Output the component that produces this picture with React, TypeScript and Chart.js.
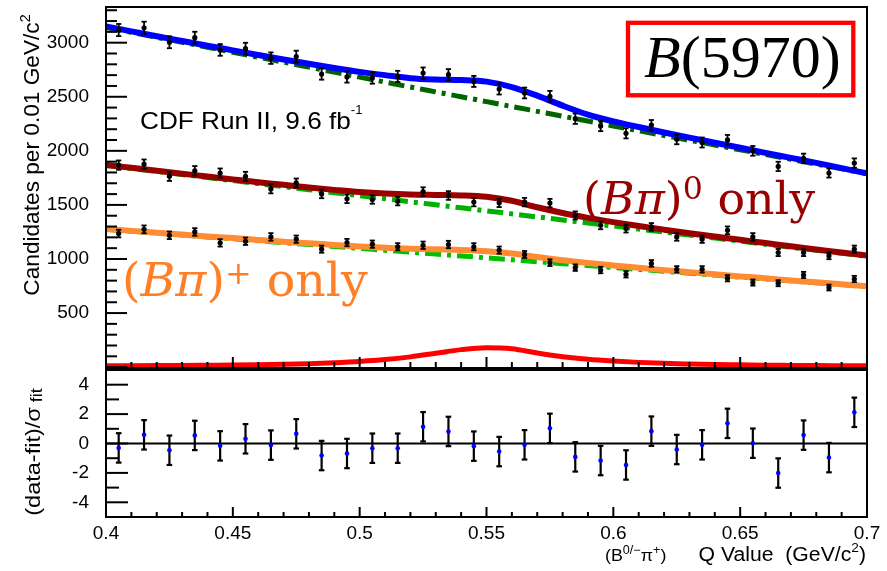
import React, { useEffect, useRef } from 'react';
import { Chart, registerables } from 'chart.js';

Chart.register(...registerables);

// ---------- data ----------
const binCenters = [0.405, 0.415, 0.425, 0.435, 0.445, 0.455, 0.465, 0.475, 0.485, 0.495, 0.505, 0.515, 0.525, 0.535, 0.545, 0.555, 0.565, 0.575, 0.585, 0.595, 0.605, 0.615, 0.625, 0.635, 0.645, 0.655, 0.665, 0.675, 0.685, 0.695];

const totalCounts = [3117, 3138, 3004, 3046, 2933, 2945, 2857, 2872, 2710, 2683, 2673, 2688, 2719, 2704, 2642, 2572, 2535, 2504, 2297, 2229, 2162, 2238, 2107, 2077, 2101, 2000, 1856, 1930, 1795, 1887];
const totalErrors = [56, 56, 55, 55, 54, 54, 53, 54, 52, 52, 52, 52, 52, 52, 51, 51, 50, 50, 48, 47, 47, 47, 46, 46, 46, 45, 43, 44, 42, 43];

const neutralCounts = [1868, 1877, 1764, 1816, 1795, 1764, 1648, 1703, 1602, 1556, 1550, 1535, 1623, 1587, 1526, 1519, 1526, 1517, 1403, 1311, 1281, 1296, 1204, 1183, 1265, 1204, 1060, 1060, 1030, 1091];
const neutralErrors = [43, 43, 42, 43, 42, 42, 41, 41, 40, 39, 39, 39, 40, 40, 39, 39, 39, 39, 37, 36, 36, 36, 35, 34, 36, 35, 33, 33, 32, 33];

const chargedCounts = [1235, 1274, 1219, 1250, 1149, 1164, 1204, 1183, 1091, 1152, 1137, 1113, 1127, 1134, 1113, 1082, 1042, 966, 920, 898, 858, 959, 904, 904, 822, 782, 776, 852, 736, 815];
const chargedErrors = [35, 36, 35, 35, 34, 34, 35, 34, 33, 34, 34, 33, 34, 34, 33, 33, 32, 31, 30, 30, 29, 31, 30, 30, 29, 28, 28, 29, 27, 29];

const curveX = [0.40, 0.41, 0.42, 0.43, 0.44, 0.45, 0.46, 0.47, 0.48, 0.49, 0.50, 0.51, 0.52, 0.53, 0.54, 0.55, 0.56, 0.57, 0.58, 0.59, 0.60, 0.61, 0.62, 0.63, 0.64, 0.65, 0.66, 0.67, 0.68, 0.69, 0.70];
const totalFit = [3150, 3105, 3060, 3016, 2972, 2929, 2886, 2845, 2805, 2766, 2730, 2700, 2672, 2660, 2655, 2640, 2590, 2510, 2418, 2335, 2272, 2220, 2170, 2122, 2075, 2028, 1981, 1935, 1889, 1840, 1792];
const totalBkg = [3142, 3096, 3050, 3004, 2958, 2912, 2866, 2820, 2774, 2728, 2682, 2636, 2590, 2545, 2500, 2455, 2410, 2365, 2320, 2275, 2230, 2186, 2142, 2098, 2054, 2010, 1966, 1922, 1878, 1834, 1788];
const neutralFit = [1870, 1843, 1816, 1789, 1762, 1736, 1710, 1686, 1661, 1639, 1619, 1605, 1596, 1592, 1588, 1575, 1538, 1478, 1425, 1380, 1341, 1305, 1271, 1238, 1207, 1177, 1147, 1118, 1088, 1060, 1031];
const neutralBkg = [1865, 1837, 1809, 1781, 1753, 1725, 1697, 1669, 1641, 1613, 1585, 1557, 1529, 1501, 1473, 1445, 1417, 1389, 1361, 1333, 1305, 1277, 1249, 1221, 1193, 1165, 1137, 1109, 1081, 1053, 1025];
const chargedFit = [1278, 1260, 1243, 1226, 1209, 1193, 1176, 1159, 1145, 1130, 1116, 1105, 1095, 1089, 1084, 1072, 1050, 1019, 989, 963, 940, 918, 897, 878, 858, 839, 821, 802, 784, 766, 748];
const chargedBkg = [1275, 1257, 1240, 1222, 1204, 1187, 1169, 1151, 1134, 1116, 1098, 1081, 1063, 1045, 1028, 1010, 992, 975, 957, 939, 922, 904, 886, 869, 851, 833, 816, 798, 780, 763, 745];
const signalFit = [12, 13, 14, 15, 17, 19, 22, 26, 32, 41, 53, 70, 95, 128, 162, 180, 170, 130, 96, 72, 56, 44, 35, 29, 24, 21, 18, 16, 14, 13, 12];

const residuals = [-0.30, 0.59, -0.46, 0.55, -0.16, 0.32, -0.11, 0.66, -0.82, -0.68, -0.32, -0.32, 1.14, 0.82, -0.18, -0.55, -0.09, 1.03, -0.91, -1.16, -1.46, 0.84, -0.41, -0.09, 1.37, 0.02, -2.01, 0.57, -0.96, 2.12];
const residualErrors = [1, 1, 1, 1, 1, 1, 1, 1, 1, 1, 1, 1, 1, 1, 1, 1, 1, 1, 1, 1, 1, 1, 1, 1, 1, 1, 1, 1, 1, 1];

const yTicksTop = [500, 1000, 1500, 2000, 2500, 3000];
const yTicksRes = [-4, -2, 0, 2, 4];
const xTicks = [0.4, 0.45, 0.5, 0.55, 0.6, 0.65, 0.7];

// ---------- helpers ----------
const SANS = '"Liberation Sans", Arial, Helvetica, sans-serif';
const SERIF = '"DejaVu Serif", "Liberation Serif", serif';
const TSERIF = '"Liberation Serif", "Times New Roman", serif';

type Part = { t: string; size: number; family?: string; style?: string; dy?: number };

function drawRich(ctx: CanvasRenderingContext2D, parts: Part[], x: number, y: number, align: 'left' | 'center' | 'right', color: string, family: string, sx = 1) {
  ctx.save();
  ctx.fillStyle = color;
  ctx.textBaseline = 'alphabetic';
  ctx.textAlign = 'left';
  const fontOf = (p: Part) => `${p.style ?? 'normal'} ${p.size}px ${p.family ?? family}`;
  let w = 0;
  for (const p of parts) { ctx.font = fontOf(p); w += ctx.measureText(p.t).width; }
  ctx.translate(x, y);
  ctx.scale(sx, 1);
  let cx = align === 'left' ? 0 : align === 'center' ? -w / 2 : -w;
  for (const p of parts) {
    ctx.font = fontOf(p);
    ctx.fillText(p.t, cx, p.dy ?? 0);
    cx += ctx.measureText(p.t).width;
  }
  ctx.restore();
}

function seg(ctx: CanvasRenderingContext2D, x1: number, y1: number, x2: number, y2: number) {
  ctx.beginPath(); ctx.moveTo(x1, y1); ctx.lineTo(x2, y2); ctx.stroke();
}

const noPad = (s: any) => { s.paddingTop = 0; s.paddingBottom = 0; s.paddingLeft = 0; s.paddingRight = 0; };

const errorBarPlugin = {
  id: 'errbars',
  beforeDatasetDraw(chart: any, args: any) {
    const ds = chart.data.datasets[args.index];
    if (!ds.errors) return;
    const meta = args.meta;
    const yS = chart.scales[meta.yAxisID];
    const ctx = chart.ctx as CanvasRenderingContext2D;
    ctx.save();
    ctx.strokeStyle = '#000';
    ctx.lineWidth = ds.errWidth;
    const cap = ds.capHalf;
    ds.data.forEach((p: any, j: number) => {
      const el = meta.data[j];
      const y1 = yS.getPixelForValue(p.y + ds.errors[j]);
      const y2 = yS.getPixelForValue(p.y - ds.errors[j]);
      seg(ctx, el.x, y1, el.x, y2);
      seg(ctx, el.x - cap, y1, el.x + cap, y1);
      seg(ctx, el.x - cap, y2, el.x + cap, y2);
    });
    ctx.restore();
  },
};

const pts = (xs: number[], ys: number[]) => xs.map((x, i) => ({ x, y: ys[i] }));

const curve = (data: number[], color: string, width: number, order: number, dash: number[] = []) => ({
  data: pts(curveX, data),
  showLine: true,
  borderColor: color,
  backgroundColor: color,
  borderWidth: width,
  borderDash: dash,
  pointRadius: 0,
  cubicInterpolationMode: 'monotone' as const,
  fill: false,
  order,
});

const points = (ys: number[], errs: number[]) => ({
  data: pts(binCenters, ys),
  showLine: false,
  pointRadius: 2.6,
  pointBackgroundColor: '#000',
  pointBorderWidth: 0,
  errors: errs,
  errWidth: 1.8,
  capHalf: 2.6,
  order: 0,
});

export default function App() {
  const topRef = useRef<HTMLCanvasElement>(null);
  const botRef = useRef<HTMLCanvasElement>(null);

  useEffect(() => {
    const DASH = [16, 6, 4, 6];
    const topFrame = {
      id: 'topFrame',
      afterDatasetsDraw(chart: any) {
        const { ctx, chartArea: a, scales } = chart;
        const xs = scales.x, ys = scales.y;
        ctx.save();
        ctx.strokeStyle = '#000';
        ctx.lineWidth = 2;
        ctx.strokeRect(a.left, a.top, a.right - a.left, a.bottom - a.top);
        for (let v = 0; v <= 3300; v += 100) {
          const py = ys.getPixelForValue(v);
          if (py < a.top || py > a.bottom) continue;
          seg(ctx, a.left, py, a.left + (v % 500 === 0 ? 21 : 11), py);
        }
        for (let k = 0; k <= 30; k++) {
          const px = xs.getPixelForValue(0.4 + k * 0.01);
          seg(ctx, px, a.bottom, px, a.bottom - (k % 5 === 0 ? 11 : 6));
        }
        ctx.restore();
      },
      afterDraw(chart: any) {
        const ctx = chart.ctx as CanvasRenderingContext2D;
        drawRich(ctx, [
          { t: 'CDF Run II, 9.6 fb', size: 24 },
          { t: '-1', size: 12, dy: -15 },
        ], 140, 129, 'left', '#000', SANS, 1.09);
        ctx.save();
        ctx.strokeStyle = '#ff0000';
        ctx.lineWidth = 4.3;
        ctx.strokeRect(628, 22.8, 225.3, 72.5);
        ctx.restore();
        drawRich(ctx, [
          { t: 'B', size: 60, style: 'italic' },
          { t: '(5970)', size: 60 },
        ], 644, 77, 'left', '#000', TSERIF);
        drawRich(ctx, [
          { t: '(', size: 45 },
          { t: 'Bπ', size: 45, style: 'italic' },
          { t: ')', size: 45 },
          { t: '0', size: 31, dy: -15 },
          { t: ' only', size: 45 },
        ], 583, 214, 'left', '#990000', SERIF, 1.02);
        drawRich(ctx, [
          { t: '(', size: 46 },
          { t: 'Bπ', size: 46, style: 'italic' },
          { t: ')', size: 46 },
          { t: '+', size: 31, dy: -12 },
          { t: ' only', size: 46 },
        ], 122, 296, 'left', '#ff7f27', SERIF, 1.03);
        ctx.save();
        ctx.translate(38.5, 155);
        ctx.rotate(-Math.PI / 2);
        drawRich(ctx, [
          { t: 'Candidates per 0.01 GeV/c', size: 22 },
          { t: '2', size: 14, dy: -9 },
        ], 0, 0, 'center', '#000', SANS, 1.03);
        ctx.restore();
      },
    };

    const top = new Chart(topRef.current as HTMLCanvasElement, {
      type: 'scatter',
      data: {
        datasets: [
          points(totalCounts, totalErrors),
          points(neutralCounts, neutralErrors),
          points(chargedCounts, chargedErrors),
          curve(totalFit, '#0000ff', 6, 1),
          curve(neutralFit, '#990000', 6, 1),
          curve(chargedFit, '#ff8c33', 6, 1),
          curve(signalFit, '#ff0000', 5, 1),
          curve(totalBkg, '#006400', 5, 2, DASH),
          curve(neutralBkg, '#00b000', 5, 2, DASH),
          curve(chargedBkg, '#00c000', 5, 2, DASH),
        ] as any,
      },
      options: {
        animation: false,
        responsive: false,
        devicePixelRatio: 1,
        events: [],
        layout: { padding: { left: 0, right: 20, top: 7, bottom: 2 } },
        plugins: { legend: { display: false }, tooltip: { enabled: false } },
        scales: {
          x: { type: 'linear', min: 0.4, max: 0.7, display: false, afterFit: noPad },
          y: {
            type: 'linear', min: -8, max: 3330,
            afterFit: (s: any) => { s.width = 106; noPad(s); },
            afterBuildTicks: (s: any) => { s.ticks = yTicksTop.map((v) => ({ value: v })); },
            grid: { display: false },
            border: { display: false },
            ticks: { font: { family: SANS, size: 19 }, color: '#000', padding: 9, callback: (v: any) => String(v) },
          },
        },
      } as any,
      plugins: [errorBarPlugin, topFrame] as any,
    });

    const botFrame = {
      id: 'botFrame',
      beforeDatasetsDraw(chart: any) {
        const { ctx, chartArea: a, scales } = chart;
        ctx.save();
        ctx.strokeStyle = '#000';
        ctx.lineWidth = 2;
        const py = scales.y.getPixelForValue(0);
        seg(ctx, a.left, py, a.right, py);
        ctx.restore();
      },
      afterDatasetsDraw(chart: any) {
        const { ctx, chartArea: a, scales } = chart;
        const xs = scales.x, ys = scales.y;
        ctx.save();
        ctx.strokeStyle = '#000';
        ctx.lineWidth = 2;
        ctx.strokeRect(a.left, a.top, a.right - a.left, a.bottom - a.top);
        for (let v = -4; v <= 4; v++) {
          const py = ys.getPixelForValue(v);
          seg(ctx, a.left, py, a.left + (v % 2 === 0 ? 22 : 13), py);
        }
        for (let k = 0; k <= 30; k++) {
          const px = xs.getPixelForValue(0.4 + k * 0.01);
          seg(ctx, px, a.bottom, px, a.bottom - (k % 5 === 0 ? 10 : 5));
        }
        ctx.restore();
      },
      afterDraw(chart: any) {
        const ctx = chart.ctx as CanvasRenderingContext2D;
        const off = 360;
        drawRich(ctx, [
          { t: 'Q Value  (GeV/c', size: 20 },
          { t: '2', size: 13, dy: -9 },
          { t: ')', size: 20 },
        ], 866, 561 - off, 'right', '#000', SANS, 1.06);
        drawRich(ctx, [
          { t: '(B', size: 17 },
          { t: '0/\u2212', size: 12, dy: -7 },
          { t: 'π', size: 17 },
          { t: '+', size: 12, dy: -7 },
          { t: ')', size: 17 },
        ], 605, 561 - off, 'left', '#000', SANS, 1.05);
        ctx.save();
        ctx.translate(40, 452 - off);
        ctx.rotate(-Math.PI / 2);
        drawRich(ctx, [
          { t: '(data-fit)/σ', size: 21 },
          { t: ' fit', size: 16, dy: 2 },
        ], 0, 0, 'center', '#000', SANS, 1.12);
        ctx.restore();
      },
    };

    const bot = new Chart(botRef.current as HTMLCanvasElement, {
      type: 'scatter',
      data: {
        datasets: [
          {
            data: pts(binCenters, residuals),
            showLine: false,
            pointRadius: 2.3,
            pointBackgroundColor: '#0000ff',
            pointBorderWidth: 0,
            errors: residualErrors,
            errWidth: 2.2,
            capHalf: 2.8,
          },
        ] as any,
      },
      options: {
        animation: false,
        responsive: false,
        devicePixelRatio: 1,
        events: [],
        layout: { padding: { left: 0, right: 20, top: 10, bottom: 0 } },
        plugins: { legend: { display: false }, tooltip: { enabled: false } },
        scales: {
          x: {
            type: 'linear', min: 0.4, max: 0.7,
            afterFit: (s: any) => { s.height = 54; noPad(s); },
            afterBuildTicks: (s: any) => { s.ticks = xTicks.map((v) => ({ value: v })); },
            grid: { display: false },
            border: { display: false },
            ticks: {
              font: { family: SANS, size: 19 }, color: '#000', padding: -3,
              maxRotation: 0, autoSkip: false,
              callback: (v: any) => String(v),
            },
          },
          y: {
            type: 'linear', min: -5, max: 5,
            afterFit: (s: any) => { s.width = 106; noPad(s); },
            afterBuildTicks: (s: any) => { s.ticks = yTicksRes.map((v) => ({ value: v })); },
            grid: { display: false },
            border: { display: false },
            ticks: { font: { family: SANS, size: 19 }, color: '#000', padding: 9, callback: (v: any) => String(v) },
          },
        },
      } as any,
      plugins: [errorBarPlugin, botFrame] as any,
    });

    return () => { top.destroy(); bot.destroy(); };
  }, []);

  return (
    <div style={{ position: 'absolute', left: 0, top: 0, width: 887, height: 571, background: '#fff', overflow: 'hidden' }}>
      <canvas ref={topRef} width={887} height={372} style={{ position: 'absolute', left: 0, top: 0, width: 887, height: 372 }} />
      <canvas ref={botRef} width={887} height={211} style={{ position: 'absolute', left: 0, top: 360, width: 887, height: 211 }} />
    </div>
  );
}
